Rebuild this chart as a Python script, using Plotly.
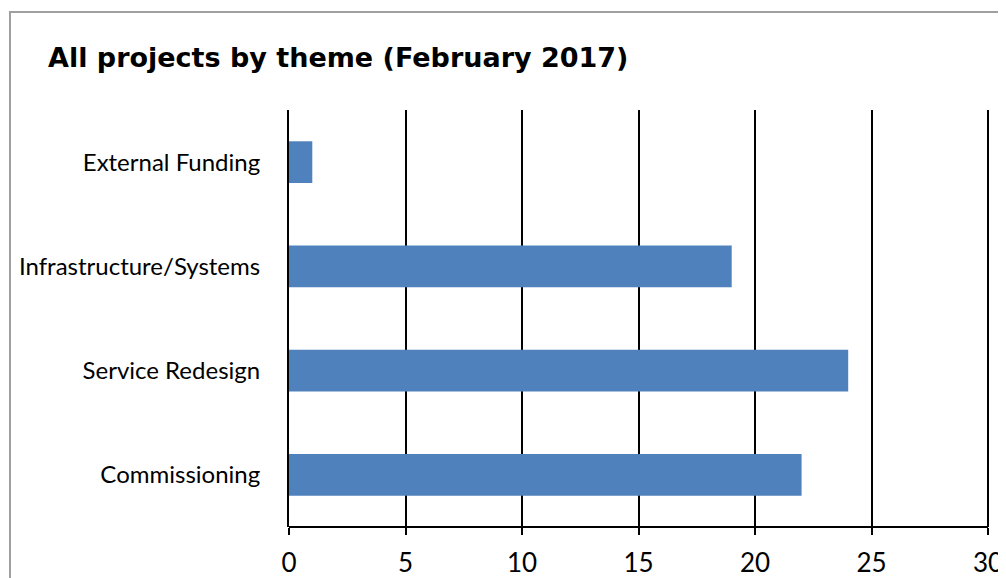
import plotly.graph_objects as go

categories = ["Commissioning", "Service Redesign", "Infrastructure/Systems", "External Funding"]
values = [22, 24, 19, 1]
tick_vals = [0, 5, 10, 15, 20, 25, 30]
title_text = "All projects by theme (February 2017)"

# page body has an 8px default margin
OX, OY = 8, 8
W, H = 1006 - OX, 578 - OY
# target plot area in screen pixels (x=30 falls at 988; area runs a bit past so gridline at 30 shows)
SX0, SX1, SY0, SY1 = 289, 991, 110, 527
XMAX = 30 * (SX1 - SX0) / (988 - SX0)
L = SX0 - OX
T = SY0 - OY
pw = SX1 - SX0
ph = SY1 - SY0
R = W - L - pw
B = H - T - ph

def px_x(sx):
    return (sx - SX0) / pw

def px_y(sy):
    return (SY1 - sy) / ph

fig = go.Figure(go.Bar(
    y=categories, x=values, orientation="h",
    marker=dict(color="#4F81BD", line=dict(width=0)),
))

font = "Lato, 'Open Sans', sans-serif"
fig.update_layout(
    width=W, height=H,
    margin=dict(l=L, r=R, t=T, b=B, autoexpand=False),
    paper_bgcolor="white", plot_bgcolor="white",
    bargap=0.6,
    showlegend=False,
    font=dict(family=font, color="black"),
    title=dict(text="<b>" + title_text + "</b>", xref="container", yref="container",
               x=(48 - OX) / W, xanchor="left", y=1 - (58 - OY) / H, yanchor="middle",
               font=dict(size=27, family="'DejaVu Sans', sans-serif", color="black")),
    xaxis=dict(range=[0, XMAX], tickvals=tick_vals, ticktext=[str(v) for v in tick_vals],
               showgrid=True, gridcolor="black", gridwidth=1.5,
               showline=False, ticklabeloverflow="allow",
               ticks="outside", ticklen=7, tickwidth=2, tickcolor="black",
               ticklabelstandoff=6,
               tickfont=dict(size=26, family=font), zeroline=False, fixedrange=True),
    yaxis=dict(categoryorder="array", categoryarray=categories,
               showline=True, linecolor="black", linewidth=2,
               showgrid=False, ticks="", ticklabelstandoff=22,
               tickfont=dict(size=24, family=font), zeroline=False, fixedrange=True),
    shapes=[
        dict(type="rect", xref="paper", yref="paper",
             x0=px_x(10), x1=px_x(1030), y0=px_y(620), y1=px_y(12),
             line=dict(color="#A0A0A0", width=2), fillcolor="rgba(0,0,0,0)",
             layer="below"),
        # x axis baseline from 0 to 30
        dict(type="line", xref="x", yref="paper", x0=0, x1=tick_vals[-1], y0=0, y1=0,
             line=dict(color="black", width=2)),
    ],
)

fig.write_html("out.html", post_script="document.documentElement.style.overflow='hidden';")
